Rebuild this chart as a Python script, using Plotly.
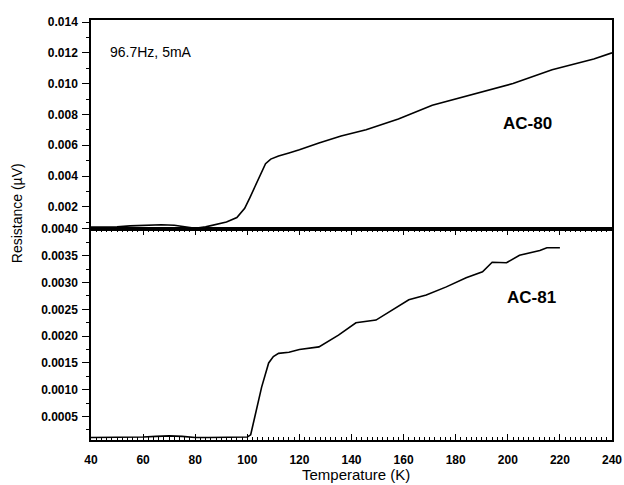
import plotly.graph_objects as go
from plotly.subplots import make_subplots

# AC-80 (top panel)
t_ac80 = [40, 50, 55, 60, 67, 72, 76, 80, 84, 88, 92, 96, 99, 101, 103, 105, 107, 109, 112,
          116, 120, 127.5, 136, 145.6, 158, 171, 186, 202, 217, 233, 240]
r_ac80 = [0.00068, 0.00070, 0.00076, 0.00080, 0.00084, 0.00080, 0.00068, 0.00060, 0.00070,
          0.00085, 0.00102, 0.0013, 0.0019, 0.0026, 0.0033, 0.0041, 0.0048, 0.0051, 0.0053,
          0.0055, 0.0057, 0.00614, 0.0066, 0.0070, 0.0077, 0.0086, 0.0093, 0.0100, 0.0109,
          0.0116, 0.0120]

# AC-81 (bottom panel)
t_ac81 = [40, 50, 60, 65, 70, 75, 80, 85, 90, 95, 98, 100, 101.3, 103, 105.5, 108.2, 110, 112,
          116, 120, 127.5, 135, 141.7, 149.4, 155.6, 162, 168.7, 176.4, 184, 190.3, 194, 199.5,
          204.5, 209.6, 212.3, 215, 218.8, 220]
r_ac81 = [0.00011, 0.00011, 0.00012, 0.00013, 0.00014, 0.00013, 0.00011, 0.00011, 0.00011,
          0.00012, 0.00011, 0.00012, 0.00016, 0.0005, 0.00105, 0.0015, 0.00162, 0.00168,
          0.0017, 0.00175, 0.0018, 0.00202, 0.00225, 0.0023, 0.00249, 0.00268, 0.00277,
          0.00292, 0.00309, 0.0032, 0.00338, 0.00337, 0.00351, 0.00357, 0.0036, 0.00365,
          0.00366, 0.00365]

x_ticks = [40, 60, 80, 100, 120, 140, 160, 180, 200, 220, 240]
y_top_ticks = [0.002, 0.004, 0.006, 0.008, 0.010, 0.012, 0.014]
y_bot_ticks = [0.0005, 0.0010, 0.0015, 0.0020, 0.0025, 0.0030, 0.0035, 0.0040]

FONT = "Liberation Sans, Arial, sans-serif"

fig = make_subplots(rows=2, cols=1, shared_xaxes=True, vertical_spacing=0)
fig.add_trace(go.Scatter(x=t_ac80, y=r_ac80, mode="lines",
                         line=dict(color="black", width=1.6), showlegend=False), row=1, col=1)
fig.add_trace(go.Scatter(x=t_ac81, y=r_ac81, mode="lines",
                         line=dict(color="black", width=1.6), showlegend=False), row=2, col=1)

split = 0.5024
fig.update_layout(
    width=624, height=485,
    margin=dict(l=91, r=12, t=20, b=45, autoexpand=False),
    paper_bgcolor="white", plot_bgcolor="white",
    font=dict(family=FONT, color="black"),
)
fig.update_yaxes(domain=[split, 1], row=1, col=1)
fig.update_yaxes(domain=[0, split], row=2, col=1)

# x axes
fig.update_xaxes(range=[40, 240], showline=True, linecolor="black", linewidth=1.5,
                 mirror=True, showgrid=False, zeroline=False, ticks="",
                 showticklabels=False, automargin=False, row=1, col=1)
fig.update_xaxes(range=[40, 240], showline=True, linecolor="black", linewidth=1.5,
                 mirror="ticks", showgrid=False, zeroline=False,
                 ticks="inside", ticklen=6, tickwidth=1.2, tickcolor="black",
                 tickvals=x_ticks, ticktext=[str(v) for v in x_ticks],
                 tickfont=dict(size=12, weight="bold", family=FONT),
                 ticklabelstandoff=8, automargin=False,
                 minor=dict(ticks="inside", ticklen=3, dtick=2, tickcolor="black", tickwidth=1),
                 row=2, col=1)

# y axes
fig.update_yaxes(range=[0.00056, 0.01413], showline=True, linecolor="black", linewidth=1.5,
                 mirror=True, showgrid=False, zeroline=False, automargin=False,
                 ticks="outside", ticklen=7, tickwidth=1.2, tickcolor="black",
                 tickvals=y_top_ticks, ticktext=["%.3f" % v for v in y_top_ticks],
                 tickfont=dict(size=12, weight="bold", family=FONT),
                 ticklabelstandoff=2,
                 minor=dict(ticks="outside", ticklen=3, dtick=0.001, tick0=0,
                            tickcolor="black", tickwidth=1),
                 row=1, col=1)
fig.update_yaxes(range=[0.000063, 0.0040], showline=True, linecolor="black", linewidth=1.5,
                 mirror=True, showgrid=False, zeroline=False, automargin=False,
                 ticks="outside", ticklen=7, tickwidth=1.2, tickcolor="black",
                 tickvals=y_bot_ticks, ticktext=["%.4f" % v for v in y_bot_ticks],
                 tickfont=dict(size=12, weight="bold", family=FONT),
                 ticklabelstandoff=2,
                 minor=dict(ticks="outside", ticklen=3, dtick=0.00025, tick0=0,
                            tickcolor="black", tickwidth=1),
                 row=2, col=1)

fig.add_annotation(text="96.7Hz, 5mA", x=46.5, y=0.01205, xref="x", yref="y",
                   xanchor="left", yanchor="middle", showarrow=False,
                   font=dict(size=14, family=FONT))
fig.add_annotation(text="AC-80", x=207.6, y=0.00744, xref="x", yref="y",
                   xanchor="center", yanchor="middle", showarrow=False,
                   font=dict(size=17, family=FONT, weight="bold"))
fig.add_annotation(text="AC-81", x=209, y=0.00273, xref="x2", yref="y2",
                   xanchor="center", yanchor="middle", showarrow=False,
                   font=dict(size=17, family=FONT, weight="bold"))
fig.add_annotation(text="Resistance (µV)", textangle=-90, x=-0.142, y=0.540,
                   xref="paper", yref="paper", xanchor="center", yanchor="middle",
                   showarrow=False, font=dict(size=14, family=FONT))
fig.add_annotation(text="Temperature (K)", x=0.5086, y=-0.0833,
                   xref="paper", yref="paper", xanchor="center", yanchor="middle",
                   showarrow=False, font=dict(size=15, family=FONT))

# remove the default 8px page margin so the 624x485 figure fills the window exactly
fig.write_html("out.html",
               config={"displayModeBar": False},
               post_script="document.body.style.margin='0';document.body.style.overflow='hidden';")
